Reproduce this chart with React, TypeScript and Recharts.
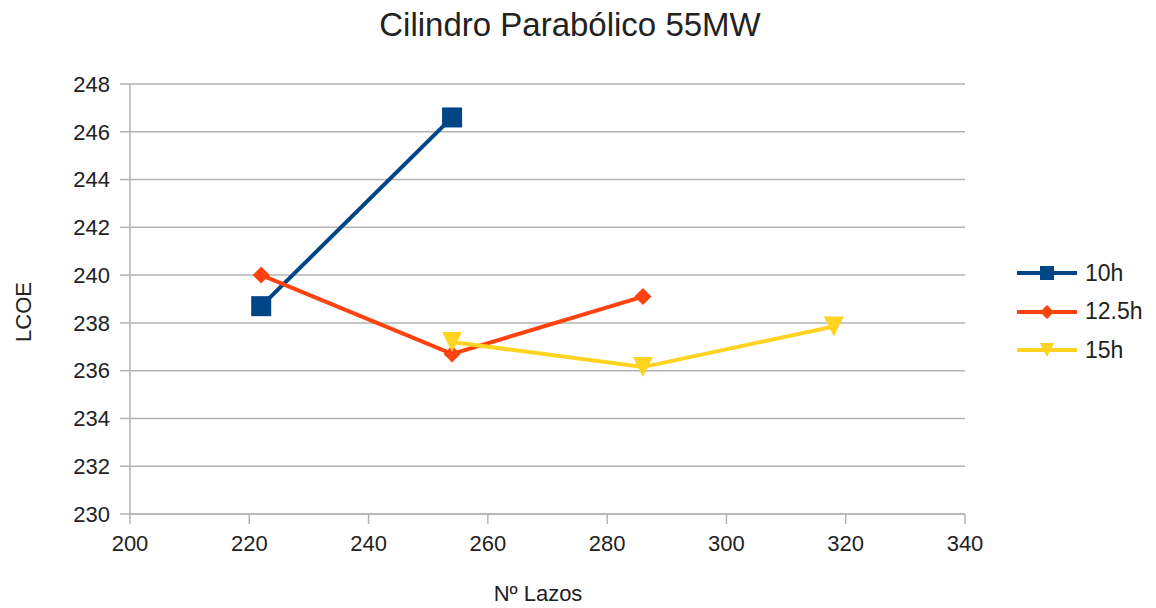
import { LineChart, Line, XAxis, YAxis, CartesianGrid } from 'recharts'

const xTicks = [200, 220, 240, 260, 280, 300, 320, 340]
const yTicks = [230, 232, 234, 236, 238, 240, 242, 244, 246, 248]

const lazos10 = [222, 254]
const lcoe10 = [238.7, 246.6]
const lazos125 = [222, 254, 286]
const lcoe125 = [240.0, 236.7, 239.1]
const lazos15 = [254, 286, 318]
const lcoe15 = [237.2, 236.15, 237.85]

const toPoints = (xs: number[], ys: number[]) => xs.map((x, i) => ({ x, y: ys[i] }))

const series = [
  { name: '10h', color: '#004586', shape: 'square', data: toPoints(lazos10, lcoe10) },
  { name: '12.5h', color: '#ff420e', shape: 'diamond', data: toPoints(lazos125, lcoe125) },
  { name: '15h', color: '#ffd320', shape: 'triangle', data: toPoints(lazos15, lcoe15) },
]

const font = '"Liberation Sans", Arial, sans-serif'
const textColor = '#222'
const gridColor = '#b3b3b3'

function Marker({ cx, cy, shape, color, size }: any) {
  if (cx == null || cy == null) return null
  const s = size / 2
  if (shape === 'square') {
    return <rect x={cx - s} y={cy - s} width={size} height={size} fill={color} />
  }
  if (shape === 'diamond') {
    return <polygon points={`${cx},${cy - s} ${cx + s},${cy} ${cx},${cy + s} ${cx - s},${cy}`} fill={color} />
  }
  return <polygon points={`${cx - s},${cy - s} ${cx + s},${cy - s} ${cx},${cy + s}`} fill={color} />
}

function LegendBox() {
  return (
    <div style={{ position: 'absolute', left: 1017, top: 254, fontFamily: font, fontSize: 23, color: textColor }}>
      {series.map((s) => (
        <div key={s.name} style={{ display: 'flex', alignItems: 'center', height: 38.5 }}>
          <svg width={62} height={20}>
            <line x1={0} y1={10} x2={60} y2={10} stroke={s.color} strokeWidth={4} />
            <Marker cx={30} cy={10} shape={s.shape} color={s.color} size={14} />
          </svg>
          <span style={{ marginLeft: 6 }}>{s.name}</span>
        </div>
      ))}
    </div>
  )
}

export default function App() {
  const tick = { fill: textColor, fontSize: 22, fontFamily: font }
  return (
    <div style={{ position: 'absolute', left: 0, top: 0, width: 1156, height: 608, background: '#fff' }}>
      <div
        style={{
          position: 'absolute',
          top: 6,
          left: 0,
          width: 1140,
          textAlign: 'center',
          fontFamily: font,
          fontSize: 33,
          color: textColor,
        }}
      >
        Cilindro Parabólico 55MW
      </div>
      <div
        style={{
          position: 'absolute',
          left: 24,
          top: 312,
          transform: 'translate(-50%, -50%) rotate(-90deg)',
          fontFamily: font,
          fontSize: 22,
          color: textColor,
          whiteSpace: 'nowrap',
        }}
      >
        LCOE
      </div>
      <div
        style={{
          position: 'absolute',
          left: 538,
          top: 594,
          transform: 'translate(-50%, -50%)',
          fontFamily: font,
          fontSize: 22,
          color: textColor,
          whiteSpace: 'nowrap',
        }}
      >
        Nº Lazos
      </div>
      <LineChart width={1156} height={608} margin={{ top: 84, right: 191, bottom: 0, left: 0 }}>
        <CartesianGrid horizontal vertical={false} stroke={gridColor} strokeWidth={1.5} />
        <XAxis
          type="number"
          dataKey="x"
          domain={[200, 340]}
          ticks={xTicks}
          allowDataOverflow
          height={94}
          tickSize={10}
          tickMargin={11}
          stroke={gridColor}
          strokeWidth={1.5}
          tick={tick}
        />
        <YAxis
          type="number"
          dataKey="y"
          domain={[230, 248]}
          ticks={yTicks}
          allowDataOverflow
          width={130}
          tickSize={10}
          tickMargin={10}
          stroke={gridColor}
          strokeWidth={1.5}
          tick={tick}
        />
        {series.map((s) => (
          <Line
            key={s.name}
            name={s.name}
            data={s.data}
            dataKey="y"
            stroke={s.color}
            strokeWidth={4}
            isAnimationActive={false}
            dot={(p: any) => (
              <Marker
                key={`${s.name}-${p.index}`}
                cx={p.cx}
                cy={p.cy}
                shape={s.shape}
                color={s.color}
                size={s.shape === 'diamond' ? 17 : 20}
              />
            )}
            activeDot={false}
          />
        ))}
      </LineChart>
      <LegendBox />
    </div>
  )
}
